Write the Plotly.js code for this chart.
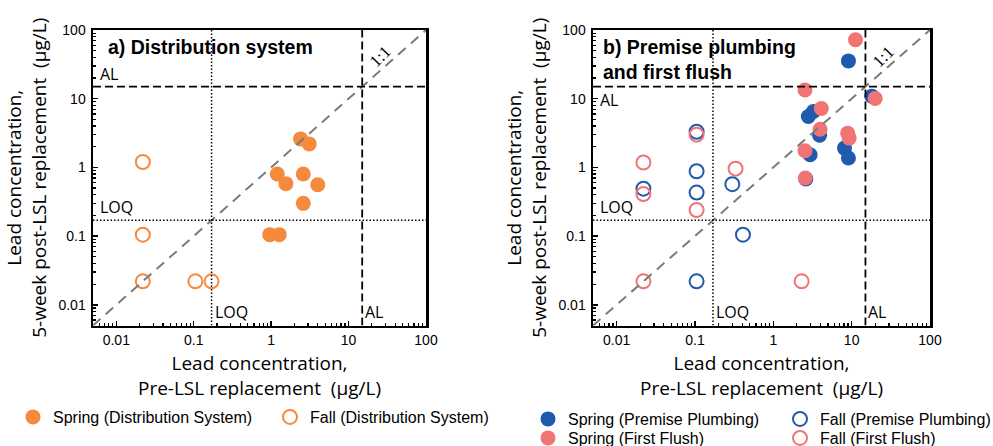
<!DOCTYPE html>
<html>
<head>
<meta charset="utf-8">
<script src="https://cdn.plot.ly/plotly-3.0.1.min.js"></script>
<style>html,body{margin:0;padding:0;background:#fff;}#chart{width:993px;height:446px;}</style>
</head>
<body>
<div id="chart"></div>
<script>
// ---- Data ----
// Panel a: Distribution system
const distSpringX = [2.4, 3.1, 1.2, 1.55, 2.6, 4.0, 2.6, 0.96, 1.27];
const distSpringY = [2.6, 2.2, 0.8, 0.58, 0.8, 0.56, 0.3, 0.105, 0.105];
const distFallX = [0.022, 0.022, 0.022, 0.105, 0.17];
const distFallY = [1.2, 0.105, 0.022, 0.022, 0.022];
// Panel b: Premise plumbing and first flush
const ppSpringX = [9.1, 18.1, 2.8, 3.25, 3.9, 2.95, 2.6, 8.1, 9.1];
const ppSpringY = [35.5, 10.9, 5.5, 6.5, 2.95, 1.53, 0.68, 1.91, 1.37];
const ppFallX = [0.022, 0.105, 0.105, 0.105, 0.105, 0.30, 0.41];
const ppFallY = [0.49, 0.88, 0.43, 0.022, 3.3, 0.57, 0.105];
const ffSpringX = [11.2, 2.54, 4.1, 3.95, 2.54, 2.56, 8.9, 9.3, 20];
const ffSpringY = [72, 13.4, 7.2, 3.6, 1.75, 0.70, 3.15, 2.67, 10.1];
const ffFallX = [0.022, 0.022, 0.022, 0.105, 0.105, 0.33, 2.3];
const ffFallY = [1.18, 0.41, 0.022, 3.0, 0.24, 0.96, 0.022];
// Reference levels
const AL = 15;        // action level (µg/L)
const LOQ = 0.17;     // limit of quantification (µg/L)
const axisMin = 0.005, axisMax = 100;
const tickVals = [0.01, 0.1, 1, 10, 100];
const tickText = ['0.01', '0.1', '1', '10', '100'];
const seriesNames = ['Spring (Distribution System)', 'Fall (Distribution System)',
  'Spring (Premise Plumbing)', 'Fall (Premise Plumbing)', 'Spring (First Flush)', 'Fall (First Flush)'];

// ---- Styles ----
const ORANGE = '#F58A3C', BLUE = '#1F5AAE', PINK = '#F07474';
const MS = 15;
function filled(x, y, color, name, xa, ya, leg) {
  return {x, y, type: 'scatter', mode: 'markers', name, xaxis: xa, yaxis: ya, legend: leg,
    marker: {symbol: 'circle', size: MS, color: color, line: {width: 0}}, cliponaxis: false};
}
function open(x, y, color, name, xa, ya, leg) {
  return {x, y, type: 'scatter', mode: 'markers', name, xaxis: xa, yaxis: ya, legend: leg,
    marker: {symbol: 'circle-open', size: MS - 1, color: color, line: {width: 2, color: color}}, cliponaxis: false};
}
function line(x, y, xa, ya, color, width, dash) {
  return {x, y, type: 'scatter', mode: 'lines', xaxis: xa, yaxis: ya, showlegend: false, hoverinfo: 'skip',
    line: {color, width, dash}};
}
function refLines(xa, ya) {
  return [
    line([axisMin, axisMax], [axisMin, axisMax], xa, ya, '#7a7a7a', 2, '10px,7px'),
    line([AL, AL], [axisMin, axisMax], xa, ya, '#000', 1.8, '8px,4px'),
    line([axisMin, axisMax], [AL, AL], xa, ya, '#000', 1.8, '8px,4px'),
    line([LOQ, LOQ], [axisMin, axisMax], xa, ya, '#000', 1.5, '1.5px,2px'),
    line([axisMin, axisMax], [LOQ, LOQ], xa, ya, '#000', 1.5, '1.5px,2px')
  ];
}

const traces = [
  filled(distSpringX, distSpringY, ORANGE, seriesNames[0], 'x', 'y', 'legend'),
  open(distFallX, distFallY, ORANGE, seriesNames[1], 'x', 'y', 'legend'),
  filled(ppSpringX, ppSpringY, BLUE, seriesNames[2], 'x2', 'y2', 'legend2'),
  open(ppFallX, ppFallY, BLUE, seriesNames[3], 'x2', 'y2', 'legend2'),
  filled(ffSpringX, ffSpringY, PINK, seriesNames[4], 'x2', 'y2', 'legend3'),
  open(ffFallX, ffFallY, PINK, seriesNames[5], 'x2', 'y2', 'legend3'),
  ...refLines('x', 'y'),
  ...refLines('x2', 'y2')
];

// minor ticks 2..9 in each decade
const minorVals = [];
for (let e = -3; e <= 2; e++) for (let m = 2; m <= 9; m++) minorVals.push(m * Math.pow(10, e));

const W = 993, H = 446;
const yDom = [1 - 325.5 / H, 1 - 30 / H];
const rng = [Math.log10(axisMin), Math.log10(axisMax)];
const tickFont = {family: 'Liberation Sans, Arial, sans-serif', size: 14, color: '#000'};
const titleFont = {family: 'Open Sans, sans-serif', size: 19, color: '#000'};
function xAxis(dom, anchor) {
  return {type: 'log', domain: dom, range: rng, anchor, tickmode: 'array', tickvals: tickVals, ticktext: tickText,
    ticks: 'inside', ticklen: 5, tickwidth: 1.5, tickcolor: '#000', showline: true, linewidth: 2.5, linecolor: '#000',
    mirror: true, showgrid: false, zeroline: false, tickfont: tickFont, automargin: false,
    minor: {tickmode: 'array', tickvals: minorVals, ticks: 'inside', ticklen: 3, tickwidth: 1.2, tickcolor: '#000', showgrid: false},
    title: {text: 'Lead concentration,<br>Pre-LSL replacement  (μg/L)', font: titleFont, standoff: 10}};
}
function yAxis(anchor) {
  return {type: 'log', domain: yDom, range: rng, anchor, tickmode: 'array', tickvals: tickVals, ticktext: tickText,
    ticks: 'inside', ticklen: 5, tickwidth: 1.5, tickcolor: '#000', showline: true, linewidth: 2.5, linecolor: '#000',
    mirror: true, showgrid: false, zeroline: false, tickfont: tickFont, ticklabelstandoff: 2, automargin: false,
    minor: {tickmode: 'array', tickvals: minorVals, ticks: 'inside', ticklen: 3, tickwidth: 1.2, tickcolor: '#000', showgrid: false},
    title: {text: 'Lead concentration,<br>5-week post-LSL replacement  (μg/L)', font: titleFont, standoff: 7}};
}

const smallFont = {family: 'Open Sans, sans-serif', size: 16, color: '#000'};
function panelAnnotations(xa, ya, alLeftBelow) {
  const xd = xa + ' domain', yd = ya + ' domain';
  return [
    {xref: xd, yref: ya, x: 0.015, y: Math.log10(AL), xanchor: 'left', yanchor: alLeftBelow ? 'top' : 'bottom',
      text: 'AL', showarrow: false, font: smallFont},
    {xref: xd, yref: ya, x: 0.015, y: Math.log10(LOQ), xanchor: 'left', yanchor: 'bottom',
      text: 'LOQ', showarrow: false, font: smallFont},
    {xref: xa, yref: yd, x: Math.log10(LOQ), y: 0.045, xanchor: 'left', yanchor: 'middle', xshift: 1,
      text: 'LOQ', showarrow: false, font: smallFont},
    {xref: xa, yref: yd, x: Math.log10(AL), y: 0.045, xanchor: 'left', yanchor: 'middle', xshift: 1,
      text: 'AL', showarrow: false, font: smallFont},
    {xref: xd, yref: yd, x: 0.862, y: 0.912, xanchor: 'center', yanchor: 'middle', textangle: -45,
      text: '1:1', showarrow: false, font: {family: 'Liberation Serif, serif', size: 17, color: '#000'}}
  ];
}

const panelTitleFont = {family: 'Liberation Sans, Arial, sans-serif', size: 19.5, color: '#000', weight: 'bold'};
const annotations = [
  {xref: 'paper', yref: 'paper', x: 106 / W, y: 1 - 47 / H, xanchor: 'left', yanchor: 'middle',
    text: '<b>a) Distribution system</b>', showarrow: false, font: panelTitleFont},
  {xref: 'paper', yref: 'paper', x: 601 / W, y: 1 - 60 / H, xanchor: 'left', yanchor: 'middle', align: 'left',
    text: '<b>b) Premise plumbing<br>and first flush</b>', showarrow: false, font: panelTitleFont},
  ...panelAnnotations('x', 'y', false),
  ...panelAnnotations('x2', 'y2', true)
];

const legFont = {family: 'Liberation Sans, Arial, sans-serif', size: 16, color: '#000'};
const legBase = {orientation: 'h', xanchor: 'left', yanchor: 'middle', font: legFont, bgcolor: 'rgba(0,0,0,0)',
  borderwidth: 0, itemclick: false, itemdoubleclick: false, tracegroupgap: 0, itemsizing: 'trace'};

const layout = {
  width: W, height: H, margin: {l: 0, r: 0, t: 0, b: 0, autoexpand: false}, paper_bgcolor: '#fff', plot_bgcolor: '#fff',
  showlegend: true, hovermode: false,
  xaxis: xAxis([93 / W, 426 / W], 'y'),
  yaxis: yAxis('x'),
  xaxis2: xAxis([593 / W, 930 / W], 'y2'),
  yaxis2: yAxis('x2'),
  legend: Object.assign({}, legBase, {x: 13 / W, y: 1 - 417 / H, entrywidth: 212}),
  legend2: Object.assign({}, legBase, {x: 528 / W, y: 1 - 419 / H, entrywidth: 207}),
  legend3: Object.assign({}, legBase, {x: 528 / W, y: 1 - 438 / H, entrywidth: 207}),
  annotations
};

Plotly.newPlot('chart', traces, layout, {staticPlot: true, displayModeBar: false});
</script>
</body>
</html>
